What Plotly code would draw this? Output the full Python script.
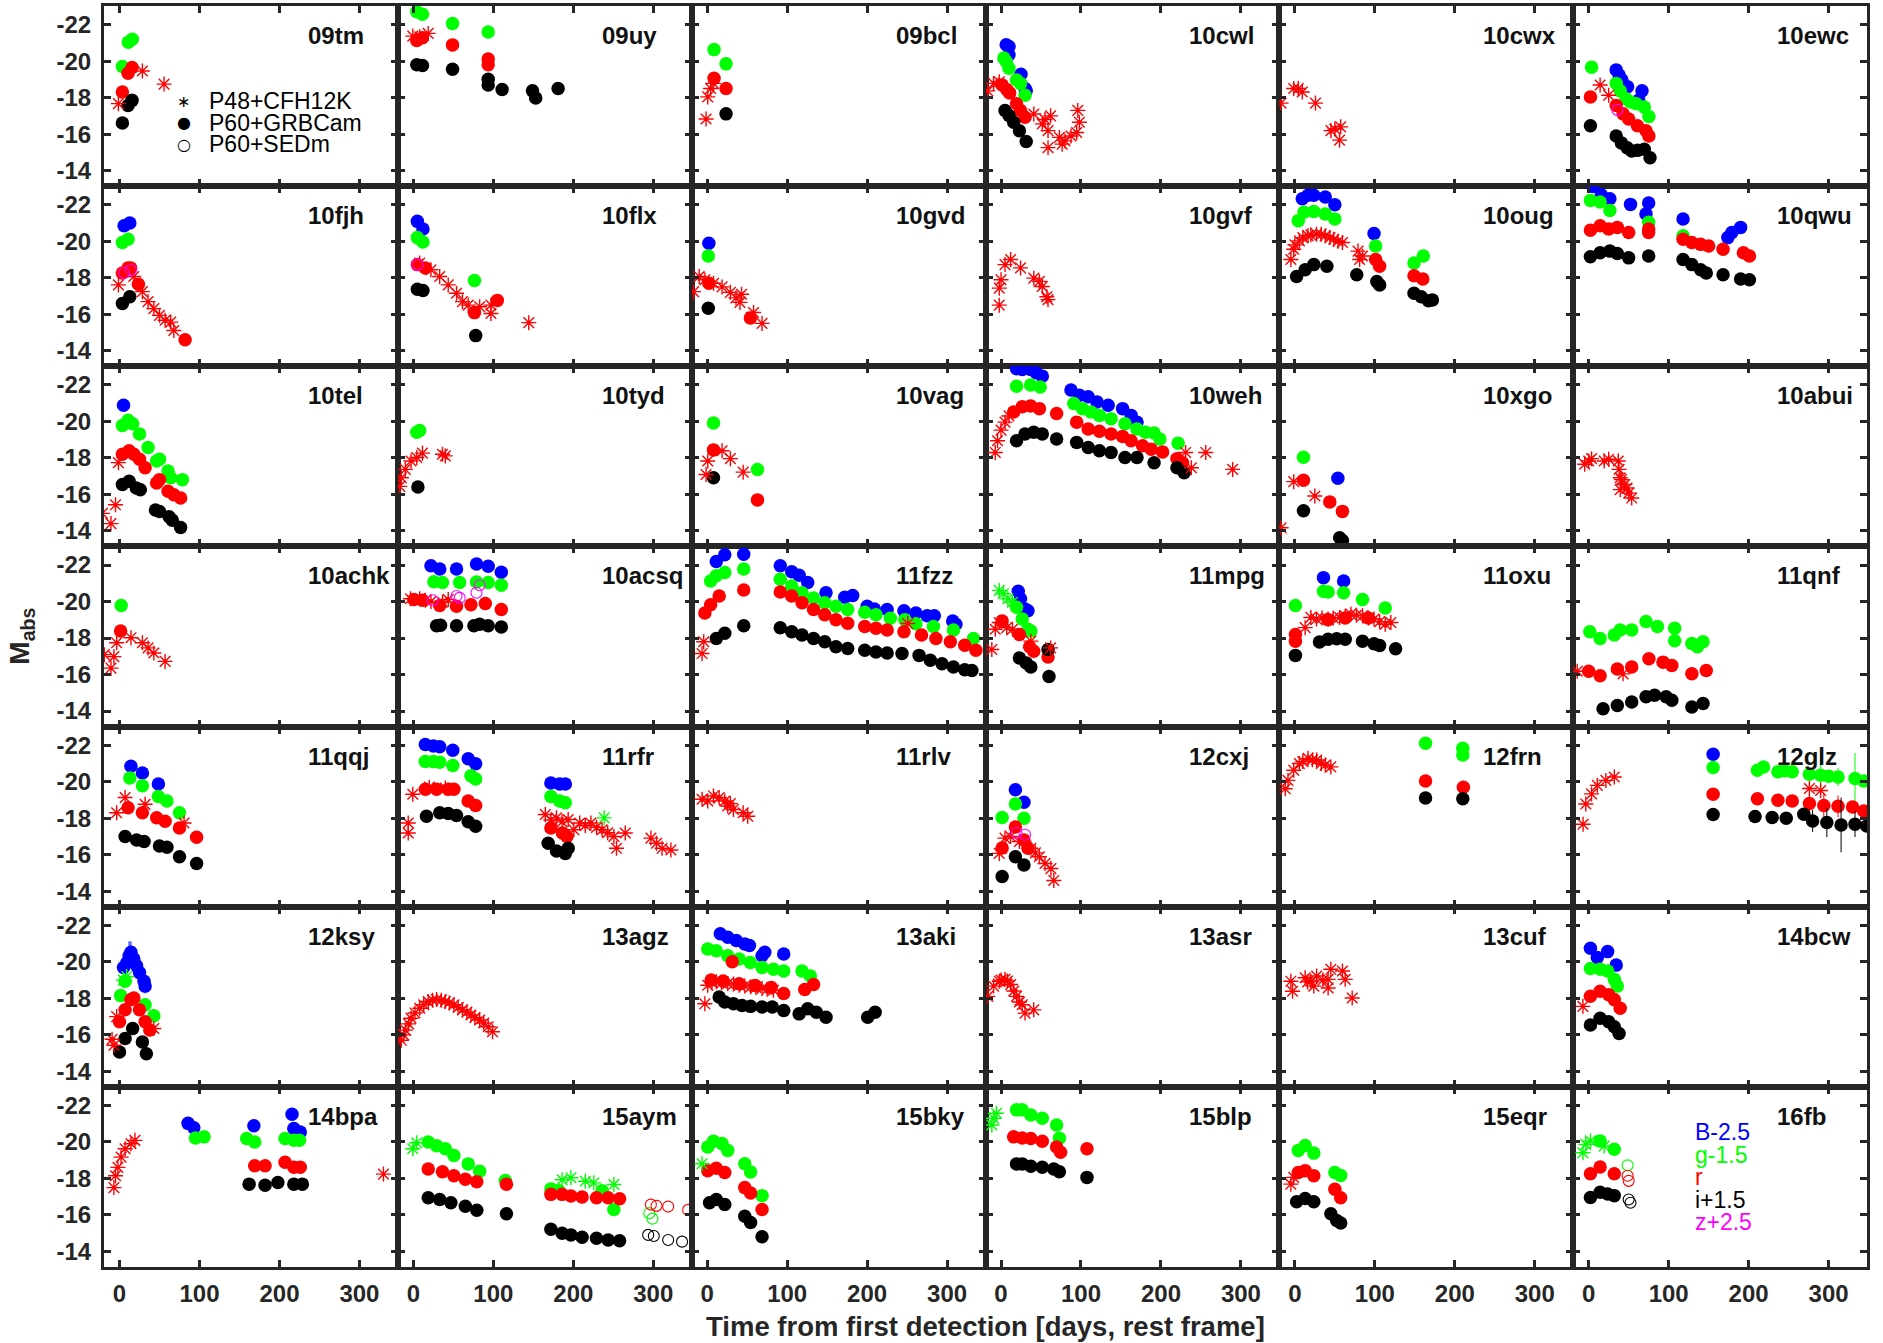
import plotly.graph_objects as go
from plotly.subplots import make_subplots

# ---------------- data: (time from first detection [d], M_abs[, err]) ----------------
# keys: B,g,r,i,z = P60+GRBCam ; "g*","r*" = P48+CFH12K ; "go","ro","io","zo" = P60+SEDm
SN_09tm = {
    "g": [(11, -21.04), (16, -21.2), (3.6, -19.7)],
    "r": [(3.6, -18.31), (10.7, -19.33), (15.7, -19.65)],
    "r*": [(-1.4, -17.67), (28.6, -19.46), (55.7, -18.74)],
    "i": [(3.6, -16.61), (10.7, -17.57), (15.7, -17.85)],
}
SN_09uy = {
    "g": [(4.3, -22.7), (11.4, -22.57), (49, -22.06), (93.6, -21.6)],
    "r": [(4.3, -21.13), (11.4, -21.28), (49, -20.89), (93.6, -20.11), (93.6, -19.8)],
    "r*": [(-0.7, -21.37), (8, -21.33), (18.6, -21.52)],
    "i": [(4.3, -19.8), (11.4, -19.76), (49, -19.56), (93.6, -19.0), (93.6, -18.69), (111, -18.44),
          (149, -18.37), (153, -17.98), (181, -18.5)],
}
SN_09bcl = {
    "g": [(8.6, -20.63), (23.6, -19.85)],
    "r": [(8.6, -19.06), (23.6, -18.5)],
    "r*": [(-1.4, -16.83), (0.7, -18.04), (4.3, -18.5), (7.9, -18.78)],
    "i": [(23.6, -17.11)],
}
SN_10cwl = {
    "B": [(6.5, -20.9), (10, -20.8), (10, -20.35), (25, -19.28), (30, -18.5), (31.5, -18.37)],
    "g": [(3.6, -20.17), (6.5, -19.98), (10, -19.61), (19.4, -18.96), (24.4, -18.78), (30, -18.13)],
    "r": [(1.4, -18.69), (7.2, -18.44), (10.8, -18.26), (19.4, -17.67), (24.4, -17.3), (30, -16.93)],
    "r*": [(-16.5, -18.37), (-9.3, -18.78), (-2.2, -18.87), (41, -17.1), (51.6, -16.56), (55, -16.8),
           (58.8, -16.19), (58.8, -15.26), (62, -17.0), (73, -15.82), (76.5, -15.45), (80, -15.63),
           (87.5, -15.9), (94.6, -16.09), (96, -17.3), (98, -16.65)],
    "i": [(5, -17.3), (10, -17.02), (15.8, -16.65), (23, -16.19), (31.5, -15.6)],
}
SN_10cwx = {
    "r*": [(-17.2, -17.7), (-1.4, -18.5), (4.3, -18.5), (9.3, -18.31), (25.8, -17.7), (45.2, -16.19),
           (50, -16.28), (55.9, -15.67), (57.3, -16.4)],
}
SN_10ewc = {
    "B": [(34.4, -19.52), (38, -19.24), (41.6, -18.96), (48.7, -18.6), (66.7, -18.37), (62.4, -17.85)],
    "g": [(3.6, -19.67), (34.4, -18.78), (39.4, -18.37), (46.6, -17.94), (52.3, -17.76), (59.5, -17.67),
          (69.5, -17.48), (75.3, -16.96)],
    "r": [(2.2, -18.04), (34.4, -17.57), (43, -17.11), (50, -16.83), (61, -16.46), (71.7, -16.19), (75.3, -15.9)],
    "r*": [(14.3, -18.69), (25, -18.13)],
    "i": [(2.2, -16.46), (34.4, -15.9), (40.9, -15.52), (48, -15.26), (53.8, -15.07), (61, -15.11),
          (69.5, -15.17), (76.7, -14.7)],
    "zo": [(35.8, -17.33)],
}
SN_10fjh = {
    "B": [(5.7, -20.85), (12.9, -21.0)],
    "g": [(3.6, -19.93), (10.7, -20.11)],
    "r": [(3.6, -18.26), (10.7, -18.54), (14, -18.54), (23.6, -17.65), (82, -14.6)],
    "r*": [(-1.4, -17.61), (17.9, -18.07), (28.6, -17.24), (35.7, -16.69), (42.9, -16.31), (50, -15.94),
           (57, -15.67), (64, -15.57), (67.9, -15.11)],
    "i": [(3.6, -16.59), (12.9, -16.96)],
    "zo": [(5.7, -18.26), (14.3, -18.44)],
}
SN_10flx = {
    "B": [(5, -21.09, 0.3), (12, -20.67)],
    "g": [(5, -20.2), (12, -19.96), (76.4, -17.85)],
    "r": [(5, -18.72), (15, -18.54), (76.4, -16.09), (105, -16.76)],
    "r*": [(7.9, -18.81), (22, -18.44), (32.9, -18.07), (43.6, -17.61), (54, -17.15), (61.4, -16.69),
           (68.6, -16.5), (82.9, -16.41), (97, -16.5), (97, -16.04), (144.3, -15.54)],
    "i": [(5, -17.37), (12, -17.3), (78, -14.83)],
    "zo": [(5, -18.72)],
}
SN_10gvd = {
    "B": [(2.1, -19.89)],
    "g": [(1.4, -19.19)],
    "r": [(2.1, -17.7), (54, -15.8)],
    "r*": [(-17, -17.24), (-10, -18.07), (-2.9, -17.89), (8, -17.7), (18.6, -17.5), (29, -17.2), (36, -16.9),
           (41, -16.65), (43, -17.1), (58, -16.1), (68.6, -15.5)],
    "i": [(1.4, -16.33)],
}
SN_10gvf = {
    "r*": [(-2.2, -16.5), (-2.2, -17.43), (0, -17.89), (5, -18.72), (12, -19.0), (24.4, -18.54), (41, -17.98),
           (48, -17.8), (51.6, -17.52), (57.3, -16.96), (58.8, -16.8)],
}
SN_10oug = {
    "B": [(9.3, -22.33), (16.5, -22.52), (23.7, -22.52), (38, -22.43), (50, -22.0), (99, -20.43)],
    "g": [(4.3, -21.13), (11.5, -21.59), (23.7, -21.63), (38, -21.5), (50, -21.22), (101, -19.74),
          (149, -18.81), (160.6, -19.19)],
    "r": [(101, -19.0), (106, -18.63), (149, -18.11), (160, -17.93)],
    "r*": [(-5, -19.0), (-1.4, -19.56), (0, -19.8), (5.7, -20.02), (10, -20.2), (16.5, -20.3), (20, -20.35),
           (27, -20.39), (33, -20.38), (38, -20.3), (44, -20.2), (48.7, -20.11), (54, -20.0), (59.5, -19.93),
           (79, -19.46), (81, -19.0), (84.6, -19.19)],
    "i": [(2.2, -18.07), (12.9, -18.44), (23.7, -18.72), (40, -18.63), (77.4, -18.17), (102.5, -17.8),
          (106, -17.61), (149, -17.15), (158, -16.96), (167, -16.74), (172, -16.78)],
}
SN_10qwu = {
    "B": [(5, -23.0), (15.8, -22.55), (26.5, -22.33), (52.3, -22.02), (71.7, -21.5), (75, -22.1), (118, -21.22),
          (174, -20.2), (179, -20.48), (190, -20.76)],
    "g": [(2.2, -22.24), (14.3, -22.15), (26.5, -21.69), (75, -21.04), (118, -20.3)],
    "r": [(2.2, -20.61), (14.3, -20.85), (25, -20.67), (35.8, -20.76), (50, -20.48), (75, -20.48), (75, -20.67),
          (118, -20.11), (129, -19.93), (140, -19.83), (150, -19.74), (168, -19.56), (193.5, -19.37), (201, -19.19)],
    "i": [(2.2, -19.15), (14.3, -19.37), (26.5, -19.46), (35.8, -19.33), (50, -19.09), (75, -19.19), (118, -19.0),
          (129, -18.72), (140, -18.44), (147, -18.26), (168, -18.17), (190, -17.93), (201, -17.89)],
}
SN_10tel = {
    "B": [(5, -20.89)],
    "g": [(3.6, -19.78), (10.7, -20.06), (16.4, -19.87), (25, -19.31), (35.7, -18.57), (46.4, -17.83), (50, -17.93),
          (60.7, -17.28), (64, -16.91), (78.6, -16.81)],
    "r": [(3.6, -18.2), (12, -18.39), (17.9, -18.2), (25, -17.93), (32, -17.46), (46.4, -16.63), (50, -16.81),
          (60.7, -16.17), (67.9, -15.98), (76.4, -15.8)],
    "r*": [(-21.4, -14.96), (-10.7, -14.4), (-5, -15.43), (-1.4, -17.74)],
    "i": [(3.6, -16.54), (12, -16.72), (21, -16.35), (26, -16.26), (45, -15.15), (50, -15.06), (62, -14.78),
          (66, -14.59), (76.4, -14.19)],
}
SN_10tyd = {
    "g": [(4.3, -19.41), (7.9, -19.5)],
    "r*": [(-17, -16.44), (-15, -16.91), (-10, -17.37), (-2.9, -17.83), (4.3, -18.02), (11.4, -18.26),
           (36.4, -18.2), (40, -18.11)],
    "i": [(5.7, -16.41)],
}
SN_10vag = {
    "g": [(7.9, -19.91), (62.9, -17.37)],
    "r": [(7.9, -18.44), (62.9, -15.7)],
    "r*": [(-1.4, -17.09), (0.7, -17.83), (18.6, -18.39), (29, -17.96), (45, -17.22)],
    "i": [(7.9, -16.91)],
}
SN_10weh = {
    "B": [(19.4, -22.89), (26.5, -22.85), (37, -22.85), (44, -22.67), (51.6, -22.48), (87.5, -21.72), (98, -21.44),
          (109, -21.35), (120, -21.07), (134, -20.89), (152, -20.7), (162.7, -20.33), (170, -19.96)],
    "g": [(19.4, -21.93), (37, -22.0), (49, -21.89), (91, -20.98), (101.8, -20.7), (112.5, -20.52), (123, -20.33),
          (137.6, -20.15), (155, -19.87), (170, -19.59), (180.6, -19.41), (191.4, -19.37), (198.6, -19.04),
          (221.5, -18.81)],
    "r": [(15.8, -20.52), (26.5, -20.8), (37, -20.85), (48, -20.7), (69.5, -20.43), (94.6, -19.96), (109, -19.59),
          (123, -19.46), (137.6, -19.31), (152, -19.18), (162.7, -18.94), (177, -18.67), (187.8, -18.48),
          (202, -18.33), (220, -17.96), (227, -17.74)],
    "r*": [(-7.2, -18.3), (-4.3, -18.94), (0, -19.52), (5, -19.96), (10, -20.3), (230.8, -18.3), (256, -18.3),
           (238, -17.46), (289.6, -17.37)],
    "i": [(19.4, -18.94), (30, -19.31), (40.9, -19.41), (51.6, -19.31), (69.5, -19.04), (94.6, -18.85), (109, -18.57),
          (123, -18.39), (137.6, -18.3), (155, -18.02), (170, -18.02), (191.4, -17.74), (220, -17.46), (229, -17.19)],
}
SN_10xgo = {
    "B": [(53.8, -16.89)],
    "g": [(10.8, -18.04)],
    "r": [(10.8, -16.78), (43.7, -15.59), (59.5, -15.07)],
    "r*": [(-17.2, -14.17), (-1.4, -16.7), (25, -15.91)],
    "i": [(10.8, -15.11), (56, -13.63), (59.5, -13.48)],
}
SN_10abui = {
    "r*": [(-5, -17.65), (0, -17.83), (3.6, -17.96), (19.4, -17.83), (25, -17.93), (37, -17.83), (38, -17.37),
           (39.4, -16.91), (40.9, -16.81), (45, -16.54), (39.4, -16.26), (48, -16.35), (50, -16.07), (53.8, -15.8)],
}
SN_10achk = {
    "g": [(2.1, -19.78)],
    "r": [(1.4, -18.39)],
    "r*": [(-19, -17.09), (-10.7, -16.35), (-7, -16.98), (-3.6, -17.74), (14.3, -18.02), (28.6, -17.74),
           (35.7, -17.46), (42.9, -17.18), (57, -16.72)],
}
SN_10acsq = {
    "B": [(22, -21.96), (33, -21.78), (54, -21.78), (79, -22.06), (93.6, -21.93), (110, -21.6)],
    "g": [(25.7, -21.09), (36.4, -21.04), (57.9, -21.04), (79, -21.07), (93.6, -21.04), (110, -20.89)],
    "r": [(0.7, -20.11), (11.4, -20.07), (33, -19.78), (54, -19.74), (72, -19.83), (90, -19.89), (110, -19.56)],
    "r*": [(-3.6, -20.15), (7.9, -20.15), (15, -20.07), (22, -20.0), (36.4, -19.96), (43.6, -20.11)],
    "i": [(29, -18.67), (34, -18.7), (54, -18.67), (75.7, -18.67), (82.9, -18.76), (93.6, -18.67), (110, -18.61)],
    "zo": [(24.3, -20.07), (54, -20.3), (57.9, -20.2), (79, -20.48), (82.9, -20.89)],
}
SN_11fzz = {
    "B": [(11.4, -22.19), (22, -22.56), (45.7, -22.59), (91.4, -21.96), (105.7, -21.63), (115, -21.44),
          (125.7, -21.04), (148.6, -20.48), (172, -20.24), (182, -20.33), (200, -19.74), (209, -19.59), (225, -19.56),
          (246, -19.5), (261, -19.37), (275, -19.22), (284, -19.22), (307, -18.94), (311, -18.76)],
    "g": [(4.3, -21.13), (11.4, -21.41), (22, -21.59), (45.7, -21.78), (91.4, -21.22), (105.7, -20.85),
          (118.6, -20.48), (133, -20.2), (147, -19.93), (161, -19.74), (175.7, -19.56), (197, -19.41), (211, -19.28),
          (229, -19.09), (247, -19.0), (261, -18.78), (282.9, -18.63), (307.9, -18.44), (333, -17.98)],
    "r": [(-2.9, -19.37), (4.3, -19.83), (15, -20.3), (45.7, -20.63), (91.4, -20.52), (105.7, -20.3), (118.6, -19.93),
          (133, -19.56), (147, -19.28), (161, -19.0), (175.7, -18.81), (197, -18.63), (211, -18.54), (225, -18.44),
          (246, -18.35), (268, -18.17), (286, -17.98), (304, -17.8), (322, -17.61), (336, -17.33)],
    "r*": [(-6.4, -17.15), (-4.3, -17.8), (250.7, -18.8)],
    "i": [(11.4, -17.98), (22, -18.26), (45.7, -18.67), (91.4, -18.57), (105.7, -18.35), (118.6, -18.17),
          (133, -17.98), (147, -17.8), (161, -17.52), (175.7, -17.43), (197, -17.33), (211, -17.24), (225, -17.18),
          (243.6, -17.15), (265, -17.05), (279, -16.78), (293.6, -16.59), (307.9, -16.41), (322, -16.26),
          (331, -16.22)],
}
SN_11mpg = {
    "B": [(21.5, -20.56), (24.4, -20.15), (30, -19.59), (33.7, -19.5)],
    "g": [(19.4, -19.69), (26.5, -19.04), (33.7, -18.48), (37.3, -18.39)],
    "g*": [(-2.2, -20.61), (2.9, -20.43), (8.6, -20.15), (14.3, -19.96)],
    "r": [(1.4, -18.94), (23, -18.2), (35.8, -17.52), (40.9, -17.28), (58.8, -16.96)],
    "r*": [(-11.5, -17.37), (-7.2, -18.48), (-2.2, -18.85), (7.2, -18.57), (14.3, -18.48), (37.3, -17.83),
           (62, -17.46)],
    "i": [(23, -16.91), (31.5, -16.63), (37.3, -16.41), (58.8, -17.37), (60, -15.89)],
}
SN_11oxu = {
    "B": [(35.8, -21.31), (61, -21.13)],
    "g": [(0.7, -19.78), (35.8, -20.57), (41.6, -20.52), (61, -20.48), (84.6, -20.11), (113, -19.65)],
    "r": [(0.7, -18.2), (0.7, -17.83), (41.6, -19.0), (63, -19.1), (92, -19.1)],
    "r*": [(12.9, -18.57), (20, -19.13), (27, -19.04), (34, -19.1), (41.6, -19.04), (48, -19.1), (55.9, -19.13),
           (63, -19.2), (70, -19.31), (77, -19.25), (84.6, -19.22), (92, -19.1), (99, -19.04), (106, -18.9),
           (113, -18.76), (120, -18.85)],
    "i": [(0.7, -17.05), (30.8, -17.78), (41.6, -17.93), (52.3, -17.96), (63, -17.93), (84.6, -17.83), (99, -17.69),
          (106, -17.59), (126, -17.41)],
}
SN_11qnf = {
    "g": [(1.4, -18.35), (14.3, -17.98), (32, -18.17), (39.4, -18.44), (53.8, -18.44), (71.7, -18.91), (86, -18.63),
          (107.5, -18.54), (107.5, -17.85), (129, -17.7), (136, -17.52), (143, -17.8)],
    "r": [(0, -16.18), (14.3, -15.94), (35.8, -16.31), (53.8, -16.41), (75.3, -16.87), (93, -16.68), (104, -16.5),
          (129, -16.04), (147, -16.22)],
    "r*": [(-14.3, -16.18), (43, -16.04)],
    "i": [(18, -14.13), (35.8, -14.31), (53.8, -14.5), (71.7, -14.78), (82.4, -14.87), (96.8, -14.78), (104, -14.59),
          (129, -14.22), (143, -14.41)],
}
SN_11qqj = {
    "B": [(14.3, -20.85), (28.6, -20.48), (48.6, -19.87)],
    "g": [(12.9, -20.2), (28.6, -19.78), (48.6, -19.19), (59.3, -18.94), (75, -18.3)],
    "r": [(10.7, -18.57), (28.6, -18.3), (46.4, -18.02), (57, -17.83), (75, -17.46), (96.4, -16.96)],
    "r*": [(-3.6, -18.3), (7, -19.13), (32, -18.76), (80.7, -17.74)],
    "i": [(7, -17.0), (21.4, -16.81), (30.7, -16.72), (50, -16.48), (59.3, -16.41), (75, -15.89), (96.4, -15.52)],
}
SN_11rfr = {
    "B": [(15, -22.04), (25, -21.95), (33, -21.91), (49.3, -21.72), (68.6, -21.26), (77.9, -20.98), (172, -19.93),
          (183, -19.87), (190, -19.87)],
    "g": [(15, -21.11), (25, -21.1), (33, -21.07), (49.3, -20.89), (72, -20.33), (77.9, -20.15), (172, -19.19),
          (183, -18.94), (190, -18.85)],
    "g*": [(238.6, -18.02)],
    "r": [(15, -19.59), (29, -19.59), (43.6, -19.59), (50.7, -19.59), (68.6, -18.94), (77.9, -18.7), (172, -17.46),
          (186.4, -17.19), (192, -17.0)],
    "r*": [(-6.4, -17.74), (-6.4, -17.19), (-0.7, -19.31), (20, -19.7), (40, -19.65), (165, -18.2), (172, -17.9),
           (179, -18.02), (186, -17.8), (193.6, -17.93), (200.7, -17.37), (208, -17.74), (215, -17.6), (222, -17.74),
           (229, -17.5), (236, -17.37), (243, -17.2), (250.7, -17.0), (254, -16.35), (265, -17.19), (297, -16.91),
           (304, -16.63), (311, -16.35), (322, -16.26)],
    "i": [(16.4, -18.11), (33, -18.3), (43.6, -18.26), (54, -18.15), (68.6, -17.8), (77.9, -17.56), (168.6, -16.63),
          (179, -16.2), (190, -16.07), (193.6, -16.35)],
}
SN_11rlv = {
    "r*": [(-6.4, -19.04), (0.7, -18.94), (7.9, -19.22), (15, -19.13), (22, -18.94), (25.7, -18.67), (29, -18.8),
           (32.9, -18.48), (45, -18.3), (50.7, -18.11)],
}
SN_12cxj = {
    "B": [(18, -19.56), (28.7, -18.87)],
    "g": [(1.4, -18.04), (18, -18.78), (28.7, -18.0)],
    "r": [(1.4, -16.37), (18, -17.52), (28.7, -16.81), (33.7, -16.35)],
    "r*": [(-2.2, -16.07), (5, -16.91), (12, -17.0), (23, -16.72), (37.3, -16.35), (43, -16.1), (48, -15.89),
           (55, -15.52), (62.4, -15.24), (66, -14.59)],
    "i": [(1.4, -14.81), (18, -15.89), (28.7, -15.43)],
    "zo": [(19.4, -17.19), (30, -17.09)],
}
SN_12frn = {
    "g": [(163.4, -22.11), (210, -21.83), (210, -21.46)],
    "r": [(163.4, -20.04), (210.7, -19.7)],
    "r*": [(-12, -19.61), (-8.6, -20.07), (-1.4, -20.63), (5.7, -21.0), (10, -21.1), (16.5, -21.28), (22, -21.2),
           (27.2, -21.19), (33, -21.0), (38, -20.91), (45, -20.81)],
    "i": [(163.4, -19.11), (210, -19.06)],
}
SN_12glz = {
    "B": [(155.6, -21.5)],
    "g": [(155.6, -20.78), (211, -20.63), (218.6, -20.81), (236.6, -20.54), (245, -20.6), (254.5, -20.54),
          (276, -20.41), (290, -20.35, 0.9), (300, -20.3), (311.8, -20.26, 0.5), (333, -20.17, 1.4), (344, -20.04)],
    "r": [(155.6, -19.31), (211, -19.07), (236.6, -18.98), (254.5, -18.94), (276, -18.8, 0.5), (294, -18.7, 0.7),
          (311.8, -18.65, 0.6), (330, -18.61), (344, -18.39)],
    "r*": [(-7, -17.67), (-3.6, -18.78), (3.6, -19.33), (10.8, -19.8), (21.5, -20.07), (32, -20.26), (276, -19.63),
           (290, -19.52)],
    "i": [(155.6, -18.2), (208, -18.09), (229.4, -18.04), (247, -18.0), (269, -18.22), (280, -17.85, 0.6),
          (297.8, -17.76, 0.8), (315.6, -17.63, 1.5), (333, -17.67, 0.7), (347.7, -17.57)],
}
SN_12ksy = {
    "B": [(5, -19.69, 0.5), (9.3, -19.96, 0.6), (12, -20.33, 0.8), (14.3, -20.52, 0.6), (17.9, -20.15, 0.7),
          (21.4, -19.78, 0.6), (25, -19.41, 0.5), (30.7, -18.94, 0.5), (32, -18.67, 0.4)],
    "g": [(1.4, -18.15), (7, -18.94), (32, -17.65), (42.9, -17.04)],
    "g*": [(5, -19.0), (9, -19.2)],
    "r": [(0, -16.72), (7, -17.37), (14.3, -17.93), (17.9, -18.02), (25, -17.37), (32, -16.72), (37.9, -16.26)],
    "r*": [(-9.3, -15.76), (-7, -15.43), (-3.6, -17.0), (42.9, -16.35)],
    "i": [(0, -15.06), (7, -15.8), (16.4, -16.35), (28.6, -15.61), (33.6, -14.96)],
}
SN_13agz = {
    "r*": [(-15, -15.7), (-12, -16.0), (-10, -16.26), (-6, -16.6), (-2.9, -16.91), (2, -17.2), (7.9, -17.46),
           (13, -17.65), (18.6, -17.83), (24, -17.9), (29, -17.93), (35, -17.9), (40, -17.83), (45, -17.75),
           (50.7, -17.65), (56, -17.5), (61.4, -17.37), (67, -17.25), (72, -17.09), (77, -16.95), (82.9, -16.81),
           (88, -16.65), (93.6, -16.44), (99, -16.17)],
}
SN_13aki = {
    "B": [(16.4, -21.54), (25.7, -21.35), (36.4, -21.17), (47, -20.98), (52.9, -20.89), (68.6, -20.33), (72, -20.52),
          (95.7, -20.43)],
    "g": [(0.7, -20.7), (11.4, -20.61), (25.7, -20.33), (40, -20.15), (54, -19.96), (68.6, -19.69), (82.9, -19.59),
          (95.7, -19.5), (118.6, -19.5), (129, -19.22)],
    "r": [(5, -19.0), (20, -18.95), (31.4, -20.0), (40, -18.8), (60, -18.7), (80, -18.6), (95.7, -18.26),
          (122, -18.48), (133, -18.76)],
    "r*": [(-2.9, -17.7), (0.7, -18.72), (6, -18.85), (11.4, -18.91), (18, -18.85), (25.7, -18.81), (33, -18.78),
           (40, -18.72), (47, -18.68), (54.3, -18.63), (61, -18.6), (68.6, -18.54), (75, -18.5), (82.9, -18.44)],
    "i": [(15, -18.07), (22, -17.8), (32.9, -17.7), (43.6, -17.61), (54.3, -17.56), (68.6, -17.52), (81.4, -17.52),
          (95.7, -17.33), (115, -17.15), (125.7, -17.43), (136.4, -17.24), (148.6, -16.96), (200.7, -16.96),
          (210, -17.24)],
}
SN_13asr = {
    "r*": [(-16.5, -18.11), (-9.3, -18.67), (-2.2, -18.94), (0, -19.0), (5, -19.04), (8, -18.95), (12, -18.76),
           (16, -18.4), (19.4, -18.11), (23, -17.8), (26.5, -17.65), (30, -17.19), (40.9, -17.37)],
}
SN_13cuf = {
    "r*": [(-5, -18.94), (-2.9, -18.39), (12.9, -19.13), (16, -18.9), (20, -18.94), (23.7, -18.67), (27.2, -19.22),
           (35, -19.0), (41.6, -19.04), (41.6, -18.57), (45, -19.59), (59.5, -19.5), (63, -19.04), (71.7, -18.02)],
}
SN_14bcw = {
    "B": [(2.2, -20.74), (10.8, -20.24), (23.7, -20.56), (34.4, -19.82)],
    "g": [(2.2, -19.63), (14.3, -19.6), (23.7, -19.5), (32, -19.04), (35.8, -18.67)],
    "r": [(2.2, -18.11), (14.3, -18.39), (25, -18.2), (32, -17.93), (39.4, -17.46)],
    "r*": [(-7.2, -17.56)],
    "i": [(2.2, -16.54), (14.3, -16.91), (25, -16.72), (32, -16.44), (38, -16.07)],
}
SN_14bpa = {
    "B": [(85.7, -21.02), (92.9, -20.78), (168, -20.89), (215.7, -21.52), (218, -20.74), (226, -20.54)],
    "g": [(95, -20.22), (105.7, -20.28), (159, -20.19), (169, -20.0), (207, -20.19), (218, -20.09), (225, -20.09)],
    "r": [(169, -18.7), (182, -18.7), (207, -18.89), (218, -18.61), (226, -18.61)],
    "r*": [(-7, -17.5), (-5, -18.15), (-2, -18.61), (2, -19.17), (7, -19.63), (14.3, -19.9), (19.3, -20.09),
           (330, -18.24)],
    "i": [(162, -17.69), (182, -17.63), (198, -17.78), (218, -17.69), (228.6, -17.69)],
}
SN_15aym = {
    "g": [(18.6, -20.0), (29, -19.8), (40, -19.63), (50.7, -19.26), (68.6, -18.8), (82.9, -18.4), (115, -17.89),
          (172, -17.43), (182, -17.33), (236, -17.33), (250.7, -16.3)],
    "g*": [(-0.7, -19.63), (4.3, -19.96), (186, -17.93), (197, -18.04), (215, -17.85), (225.7, -17.76),
           (250.7, -17.67)],
    "r": [(18.6, -18.52), (36.4, -18.37), (50.7, -18.15), (65, -17.96), (79.3, -17.82), (116.4, -17.69),
          (172, -17.13), (186, -17.13), (197, -17.04), (211, -16.98), (229, -16.94), (243.6, -16.94), (257.9, -16.89)],
    "i": [(18.6, -16.94), (32.9, -16.85), (47, -16.67), (65, -16.48), (79.3, -16.26), (116.4, -16.07), (172, -15.22),
          (186, -15.0), (197, -14.91), (211, -14.78), (229, -14.72), (243.6, -14.63), (257.9, -14.59)],
    "go": [(295, -16.1), (299, -15.8)],
    "ro": [(297, -16.57), (304, -16.5), (318.6, -16.46), (343.6, -16.28)],
    "io": [(293.6, -14.91), (300.7, -14.85), (318.6, -14.63), (336, -14.54)],
}
SN_15bky = {
    "g": [(0.7, -19.72), (7.9, -20.04), (18.6, -19.91), (25.7, -19.54), (47, -18.81), (54.3, -18.35), (68.6, -17.06)],
    "g*": [(-6.4, -18.81)],
    "r": [(0.7, -18.43), (11.4, -18.56), (22, -18.33), (47, -17.5), (54.3, -17.2), (68.6, -16.3)],
    "i": [(2.9, -16.67), (11.4, -16.85), (22, -16.57), (47, -15.93), (54.3, -15.59), (68.6, -14.81)],
}
SN_15blp = {
    "g": [(19.4, -21.76), (26.5, -21.76), (37.3, -21.48), (51.6, -21.3), (69.5, -20.93), (73, -20.2)],
    "g*": [(-11.5, -20.93), (-5.7, -21.57), (-9.3, -21.3)],
    "r": [(15.8, -20.28), (26.5, -20.22), (37.3, -20.19), (51.6, -20.04), (69.5, -19.72), (74.5, -19.44),
          (107.5, -19.63)],
    "i": [(19.4, -18.8), (26.5, -18.8), (37.3, -18.67), (51.6, -18.61), (66, -18.52), (73, -18.37), (107.5, -18.06)],
}
SN_15eqr = {
    "g": [(4.3, -19.54), (12.9, -19.81), (23.7, -19.39), (50, -18.33), (57.3, -18.17)],
    "r": [(4.3, -18.33), (12.9, -18.43), (23.7, -18.15), (50, -17.41), (57.3, -16.94)],
    "r*": [(-5, -17.69), (-1.4, -18.06)],
    "i": [(2.2, -16.72), (12.9, -16.9), (23.7, -16.72), (45, -16.07), (52.3, -15.7), (57.3, -15.56)],
}
SN_16fb = {
    "g": [(14.3, -20.06), (32, -19.6)],
    "g*": [(-7.2, -19.41), (-3.6, -19.87), (2.2, -20.06), (19.4, -19.78)],
    "r": [(2.2, -18.26), (14.3, -18.63), (32, -18.26)],
    "i": [(2.2, -16.96), (14.3, -17.24), (23.7, -17.15), (32, -17.06)],
    "go": [(48.7, -18.72)],
    "ro": [(48.7, -18.15), (50, -17.87)],
    "io": [(50, -16.85), (52.3, -16.67)],
}

PANELS = [
    ("09tm", SN_09tm), ("09uy", SN_09uy), ("09bcl", SN_09bcl), ("10cwl", SN_10cwl), ("10cwx", SN_10cwx), ("10ewc", SN_10ewc),
    ("10fjh", SN_10fjh), ("10flx", SN_10flx), ("10gvd", SN_10gvd), ("10gvf", SN_10gvf), ("10oug", SN_10oug), ("10qwu", SN_10qwu),
    ("10tel", SN_10tel), ("10tyd", SN_10tyd), ("10vag", SN_10vag), ("10weh", SN_10weh), ("10xgo", SN_10xgo), ("10abui", SN_10abui),
    ("10achk", SN_10achk), ("10acsq", SN_10acsq), ("11fzz", SN_11fzz), ("11mpg", SN_11mpg), ("11oxu", SN_11oxu), ("11qnf", SN_11qnf),
    ("11qqj", SN_11qqj), ("11rfr", SN_11rfr), ("11rlv", SN_11rlv), ("12cxj", SN_12cxj), ("12frn", SN_12frn), ("12glz", SN_12glz),
    ("12ksy", SN_12ksy), ("13agz", SN_13agz), ("13aki", SN_13aki), ("13asr", SN_13asr), ("13cuf", SN_13cuf), ("14bcw", SN_14bcw),
    ("14bpa", SN_14bpa), ("15aym", SN_15aym), ("15bky", SN_15bky), ("15blp", SN_15blp), ("15eqr", SN_15eqr), ("16fb", SN_16fb),
]

X_TICKS = [0, 100, 200, 300]
Y_TICKS = [-22, -20, -18, -16, -14]
INSTRUMENTS = ["P48+CFH12K", "P60+GRBCam", "P60+SEDm"]
INSTR_GLYPHS = ["\u2217", "\u25cf", "\u25cb"]
BAND_LABELS = ["B-2.5", "g-1.5", "r", "i+1.5", "z+2.5"]
BAND_COLORS = ["#0000FF", "#00FF00", "#FF0000", "#000000", "#FF00FF"]
COLORS = {"B": "#0000FF", "g": "#00FF00", "r": "#FF0000", "i": "#000000", "z": "#FF00FF"}
X_TITLE = "Time from first detection [days, rest frame]"
Y_TITLE = "M<sub>abs</sub>"

# ---------------- figure ----------------
DARK = "#262626"
FONT = "Liberation Sans"
XR = [-19.4, 348]
YR = [-13.15, -23.02]
NROW, NCOL = 7, 6

fig = make_subplots(rows=NROW, cols=NCOL, horizontal_spacing=0, vertical_spacing=0)

ORDER = ["B", "g", "r", "i", "z", "g*", "r*", "go", "ro", "io", "zo"]
for k, (name, data) in enumerate(PANELS):
    row, col = k // NCOL + 1, k % NCOL + 1
    for key in ORDER:
        if key not in data:
            continue
        pts = data[key]
        c = COLORS[key[0]]
        xs = [p[0] for p in pts]
        ys = [p[1] for p in pts]
        errs = [p[2] if len(p) > 2 else 0 for p in pts]
        if key.endswith("*"):
            marker = dict(symbol="asterisk-open", size=12.5, color=c, line=dict(color=c, width=1.4))
        elif key.endswith("o"):
            marker = dict(symbol="circle-open", size=11, color=c, line=dict(color=c, width=1.1))
        else:
            marker = dict(symbol="circle", size=13.5, color=c, line=dict(width=0))
        tr = go.Scatter(x=xs, y=ys, mode="markers", marker=marker, hoverinfo="x+y", showlegend=False)
        if any(errs):
            tr.error_y = dict(type="data", array=errs, visible=True, thickness=1, width=0, color=c)
        fig.add_trace(tr, row=row, col=col)

axis_common = dict(ticks="inside", ticklen=7, tickwidth=2.5, tickcolor=DARK, showline=True, linewidth=3,
                   linecolor=DARK, mirror="allticks", showgrid=False, zeroline=False, showticklabels=False,
                   tickfont=dict(family=FONT, size=24, color=DARK, weight="bold"))
fig.update_xaxes(range=XR, tickmode="array", tickvals=X_TICKS, ticktext=[str(v) for v in X_TICKS],
                 ticklabelstandoff=3, **axis_common)
fig.update_yaxes(range=YR, tickmode="array", tickvals=Y_TICKS, ticktext=[str(v) for v in Y_TICKS],
                 ticklabelstandoff=5, **axis_common)
fig.update_xaxes(showticklabels=True, row=NROW)
fig.update_yaxes(showticklabels=True, col=1)

annotations = []
for k, (name, data) in enumerate(PANELS):
    suf = "" if k == 0 else str(k + 1)
    annotations.append(dict(xref="x" + suf, yref="y" + suf, x=233, y=-21.4, text="<b>" + name + "</b>",
                            showarrow=False, xanchor="left", yanchor="middle",
                            font=dict(family=FONT, size=24, color="#111111")))

# instrument legend (first panel)
for j, (lab, gl) in enumerate(zip(INSTRUMENTS, INSTR_GLYPHS)):
    yv = -17.79 + 1.17 * j
    annotations.append(dict(xref="x", yref="y", x=80, y=yv, text=gl, showarrow=False, xanchor="center",
                            yanchor="middle", font=dict(family="DejaVu Sans", size=16, color="#000000")))
    annotations.append(dict(xref="x", yref="y", x=110, y=yv, text=lab, showarrow=False, xanchor="left",
                            yanchor="middle", font=dict(family=FONT, size=23, color="#000000")))

# band legend (last panel)
last = str(len(PANELS))
for j, (lab, c) in enumerate(zip(BAND_LABELS, BAND_COLORS)):
    annotations.append(dict(xref="x" + last, yref="y" + last, x=131, y=-20.52 + 1.23 * j, text=lab,
                            showarrow=False, xanchor="left", yanchor="middle",
                            font=dict(family=FONT, size=23, color=c)))

# axis titles
annotations.append(dict(xref="paper", yref="paper", x=0.5, y=-0.047, text="<b>" + X_TITLE + "</b>",
                        showarrow=False, xanchor="center", yanchor="middle",
                        font=dict(family=FONT, size=27.5, color=DARK)))
annotations.append(dict(xref="paper", yref="paper", x=-0.047, y=0.5, text="<b>" + Y_TITLE + "</b>",
                        showarrow=False, xanchor="center", yanchor="middle", textangle=-90,
                        font=dict(family=FONT, size=28, color=DARK)))

fig.update_layout(width=1883, height=1343, margin=dict(l=104, r=16, t=3, b=76),
                  plot_bgcolor="white", paper_bgcolor="white", showlegend=False,
                  annotations=annotations)

fig.write_html("out.html", config={"displayModeBar": False},
               post_script="document.body.style.margin='0';document.body.style.overflow='hidden';")
